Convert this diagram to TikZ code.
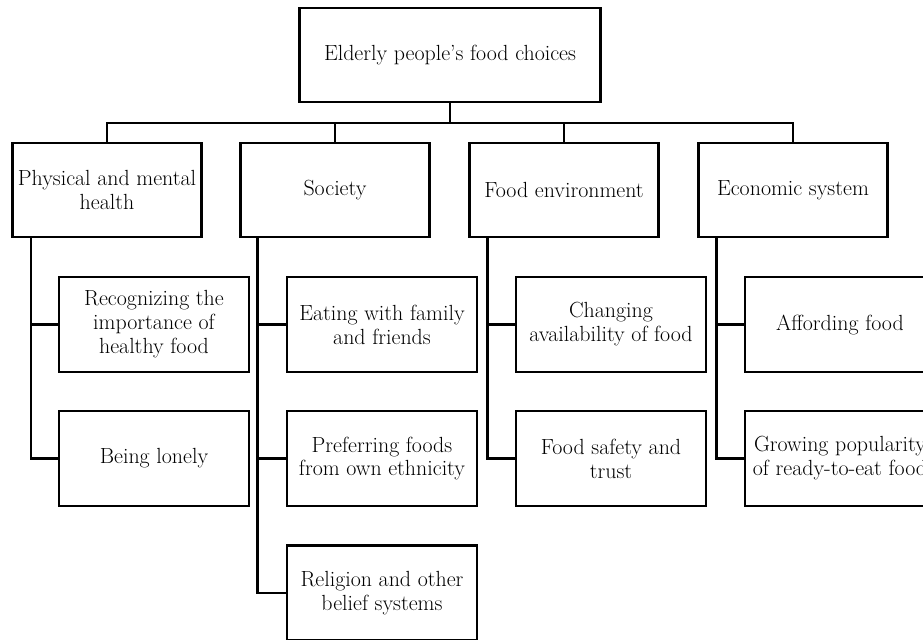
\documentclass[tikz,border=0pt]{standalone}
\begin{document}
\begin{tikzpicture}[x=1bp,y=-1bp,
  box/.style={draw, line width=2.5bp, align=center, inner sep=1bp,
    font=\fontsize{22}{24}\selectfont},
  topbox/.style={box, minimum width=301bp, minimum height=94bp},
  catbox/.style={box, minimum width=189bp, minimum height=94bp},
  subbox/.style={box, minimum width=190bp, minimum height=95bp},
  link/.style={line width=2.5bp, line join=miter}]
\useasboundingbox (0,0) rectangle (923,640);
\clip (0,0) rectangle (923,640);
\node[topbox] (top) at (450,55) {Elderly people’s food choices};
\node[catbox] (p1) at (107,190) {Physical and mental\\health};
\node[catbox] (p2) at (335,190) {Society};
\node[catbox] (p3) at (564,190) {Food environment};
\node[catbox] (p4) at (793,190) {Economic system};
\node[subbox] (c11) at (154,324.5) {Recognizing the\\importance of\\healthy food};
\node[subbox] (c12) at (154,458.5) {Being lonely};
\node[subbox] (c21) at (382,324.5) {Eating with family\\and friends};
\node[subbox] (c22) at (382,458.5) {Preferring foods\\from own ethnicity};
\node[subbox] (c23) at (382,593) {Religion and other\\belief systems};
\node[subbox] (c31) at (611,324.5) {Changing\\availability of food};
\node[subbox] (c32) at (611,458.5) {Food safety and\\trust};
\node[subbox] (c41) at (840,324.5) {Affording food};
\node[subbox] (c42) at (840,458.5) {Growing popularity\\of ready-to-eat food};
\coordinate (bus) at (0,123);
\draw[link] (top.south) -- (top.south |- bus);
\draw[link] (p1.north) -- (p1.north |- bus) -- (p4.north |- bus) -- (p4.north);
\draw[link] (p2.north) -- (p2.north |- bus);
\draw[link] (p3.north) -- (p3.north |- bus);
\coordinate (t1) at ([xshift=20bp]p1.south west);
\coordinate (t2) at ([xshift=18bp]p2.south west);
\coordinate (t3) at ([xshift=19bp]p3.south west);
\coordinate (t4) at ([xshift=19bp]p4.south west);
\draw[link] (t1) |- (c12.west);
\draw[link] (t1 |- c11.west) -- (c11.west);
\draw[link] (t2) |- (c23.west);
\draw[link] (t2 |- c21.west) -- (c21.west);
\draw[link] (t2 |- c22.west) -- (c22.west);
\draw[link] (t3) |- (c32.west);
\draw[link] (t3 |- c31.west) -- (c31.west);
\draw[link] (t4) |- (c42.west);
\draw[link] (t4 |- c41.west) -- (c41.west);
\end{tikzpicture}
\end{document}
